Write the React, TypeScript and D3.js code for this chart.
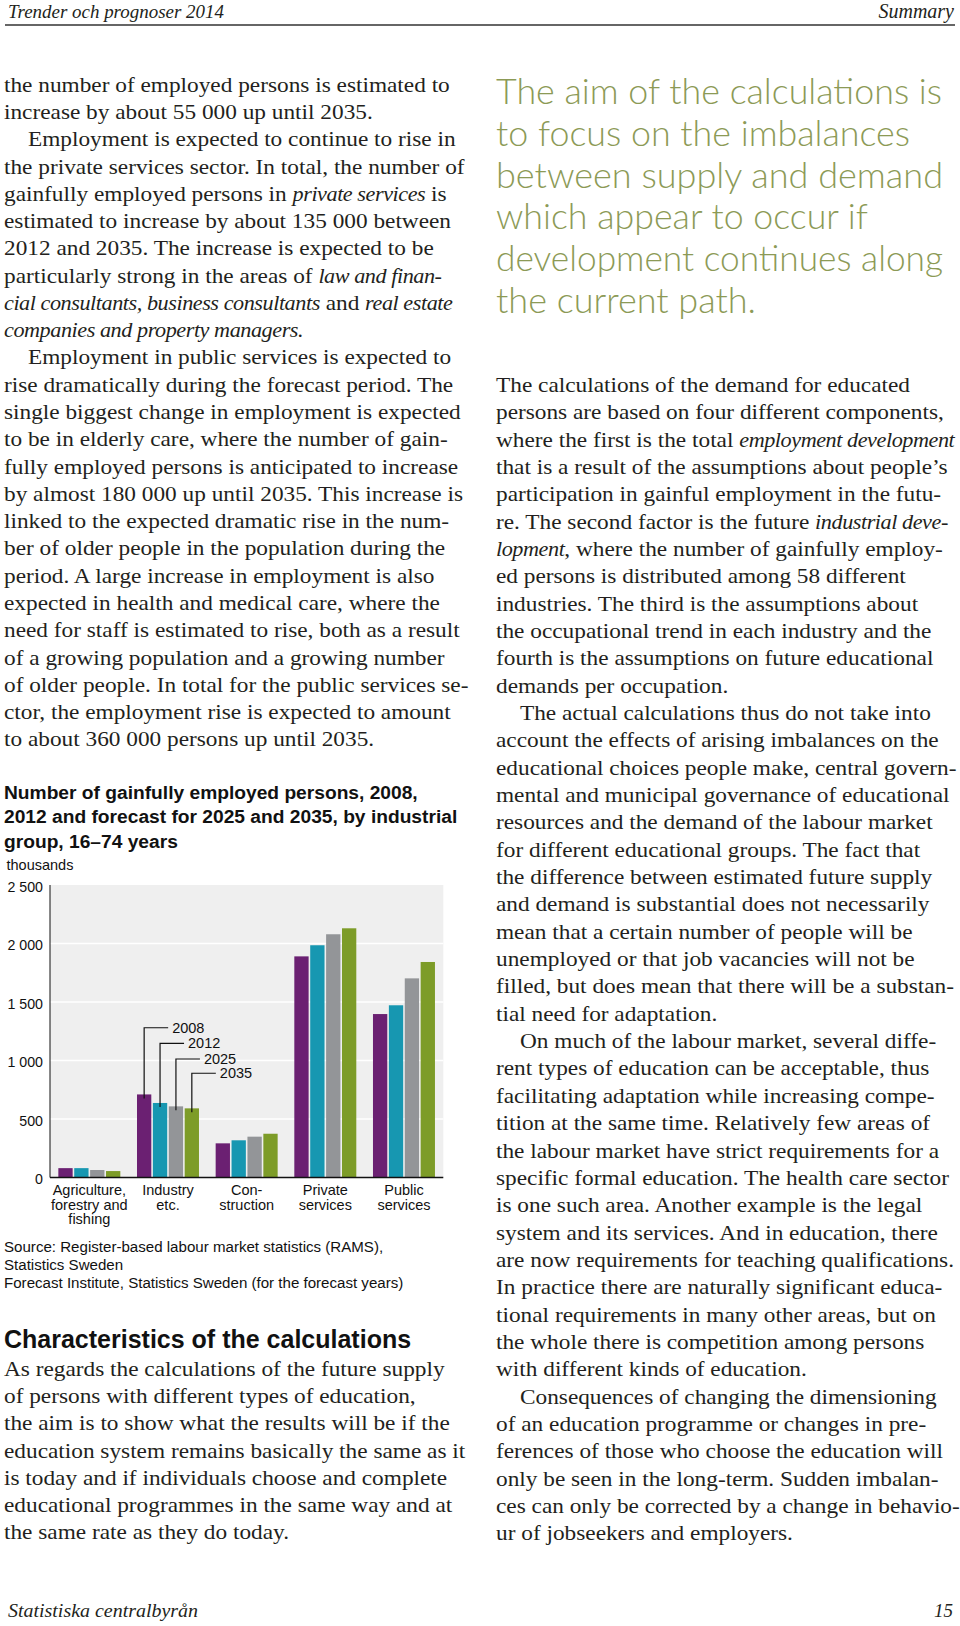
import React from "react";
import * as d3 from "d3";

const categories = ["Agriculture", "Industry", "Construction", "Private", "Public"];
const categoryLabels = [
  ["Agriculture,", "forestry and", "fishing"],
  ["Industry", "etc."],
  ["Con-", "struction"],
  ["Private", "services"],
  ["Public", "services"],
];
const years = ["2008", "2012", "2025", "2035"];
const values2008 = [80, 710, 292, 1890, 1397];
const values2012 = [80, 637, 318, 1985, 1472];
const values2025 = [64, 608, 349, 2079, 1702];
const values2035 = [55, 591, 374, 2130, 1842];
const yTicks = [0, 500, 1000, 1500, 2000, 2500];
const yTickLabels = ["0", "500", "1 000", "1 500", "2 000", "2 500"];
const calloutLevels = [1280, 1147, 1013, 891];
const colors = ["#6b2072", "#1797b1", "#939598", "#7d9c28"];

const chartTitle = [
  "Number of gainfully employed persons, 2008,",
  "2012 and forecast for 2025 and 2035, by industrial",
  "group, 16–74 years",
];
const sourceLines = [
  "Source: Register-based labour market statistics (RAMS),",
  "Statistics Sweden",
  "Forecast Institute, Statistics Sweden (for the forecast years)",
];

const leftLines = [
  "the number of employed persons is estimated to",
  "increase by about 55 000 up until 2035.",
  ">Employment is expected to continue to rise in",
  "the private services sector. In total, the number of",
  "gainfully employed persons in *private services* is",
  "estimated to increase by about 135 000 between",
  "2012 and 2035. The increase is expected to be",
  "particularly strong in the areas of *law and finan-*",
  "*cial consultants, business consultants* and *real estate*",
  "*companies and property managers.*",
  ">Employment in public services is expected to",
  "rise dramatically during the forecast period. The",
  "single biggest change in employment is expected",
  "to be in elderly care, where the number of gain-",
  "fully employed persons is anticipated to increase",
  "by almost 180 000 up until 2035. This increase is",
  "linked to the expected dramatic rise in the num-",
  "ber of older people in the population during the",
  "period. A large increase in employment is also",
  "expected in health and medical care, where the",
  "need for staff is estimated to rise, both as a result",
  "of a growing population and a growing number",
  "of older people. In total for the public services se-",
  "ctor, the employment rise is expected to amount",
  "to about 360 000 persons up until 2035.",
];

const bottomLines = [
  "As regards the calculations of the future supply",
  "of persons with different types of education,",
  "the aim is to show what the results will be if the",
  "education system remains basically the same as it",
  "is today and if individuals choose and complete",
  "educational programmes in the same way and at",
  "the same rate as they do today.",
];

const quoteLines = [
  "The aim of the calculations is",
  "to focus on the imbalances",
  "between supply and demand",
  "which appear to occur if",
  "development continues along",
  "the current path.",
];
const quoteWidths = [446, 414, 447, 372, 447, 260];

const rightLines = [
  "The calculations of the demand for educated",
  "persons are based on four different components,",
  "where the first is the total *employment development*",
  "that is a result of the assumptions about people’s",
  "participation in gainful employment in the futu-",
  "re. The second factor is the future *industrial deve-*",
  "*lopment*, where the number of gainfully employ-",
  "ed persons is distributed among 58 different",
  "industries. The third is the assumptions about",
  "the occupational trend in each industry and the",
  "fourth is the assumptions on future educational",
  "demands per occupation.",
  ">The actual calculations thus do not take into",
  "account the effects of arising imbalances on the",
  "educational choices people make, central govern-",
  "mental and municipal governance of educational",
  "resources and the demand of the labour market",
  "for different educational groups. The fact that",
  "the difference between estimated future supply",
  "and demand is substantial does not necessarily",
  "mean that a certain number of people will be",
  "unemployed or that job vacancies will not be",
  "filled, but does mean that there will be a substan-",
  "tial need for adaptation.",
  ">On much of the labour market, several diffe-",
  "rent types of education can be acceptable, thus",
  "facilitating adaptation while increasing compe-",
  "tition at the same time. Relatively few areas of",
  "the labour market have strict requirements for a",
  "specific formal education. The health care sector",
  "is one such area. Another example is the legal",
  "system and its services. And in education, there",
  "are now requirements for teaching qualifications.",
  "In practice there are naturally significant educa-",
  "tional requirements in many other areas, but on",
  "the whole there is competition among persons",
  "with different kinds of education.",
  ">Consequences of changing the dimensioning",
  "of an education programme or changes in pre-",
  "ferences of those who choose the education will",
  "only be seen in the long-term. Sudden imbalan-",
  "ces can only be corrected by a change in behavio-",
  "ur of jobseekers and employers.",
];

const SERIF = "'Liberation Serif', 'Times New Roman', serif";
const SANS = "'Liberation Sans', Arial, Helvetica, sans-serif";
const TEXT = "#231f20";
const SX = 1.11;

function BodyLine({ line, x, y, indent }: { line: string; x: number; y: number; indent: number }) {
  let s = line;
  let ind = 0;
  if (s.startsWith(">")) {
    s = s.slice(1);
    ind = indent;
  }
  const parts = s.split("*");
  return (
    <text x={(x + ind) / SX} y={y} transform={`scale(${SX},1)`} fontFamily={SERIF} fontSize={21} fill={TEXT} xmlSpace="preserve">
      {parts.map((p, i) =>
        i % 2 === 1 ? (
          <tspan key={i} fontStyle="italic" fontSize={20} letterSpacing={-0.4}>
            {p}
          </tspan>
        ) : (
          <tspan key={i}>{p}</tspan>
        )
      )}
    </text>
  );
}

function Chart() {
  const x0 = d3.scaleBand<string>().domain(categories).range([50, 443.3]).paddingInner(0.212).paddingOuter(0.106);
  const x1 = d3.scaleBand<string>().domain(years).range([0, x0.bandwidth()]).paddingInner(0.1);
  const y = d3.scaleLinear().domain([0, 2500]).range([1177.5, 885]);
  const series = [values2008, values2012, values2025, values2035];
  const bw = x1.bandwidth();
  const [plotL, plotR] = x0.range();
  return (
    <g>
      {chartTitle.map((t, i) => (
        <text key={i} x={4} y={798.5 + i * 24.5} fontFamily={SANS} fontWeight="bold" fontSize={19.2} fill="#111">
          {t}
        </text>
      ))}
      <text x={6.5} y={870} fontFamily={SANS} fontSize={14.5} fill="#111">thousands</text>
      <rect x={plotL} y={y(2500)} width={plotR - plotL} height={y(0) - y(2500)} fill="#efefef" />
      {yTicks.slice(1, -1).map((t) => (
        <line key={t} x1={plotL} x2={plotR} y1={y(t)} y2={y(t)} stroke="#fff" strokeWidth={1.5} />
      ))}
      {yTicks.map((t, i) => (
        <text key={t} x={43} y={y(t) + 6.5} textAnchor="end" fontFamily={SANS} fontSize={14.2} fill="#111">
          {yTickLabels[i]}
        </text>
      ))}
      {categories.map((c, ci) => (
        <g key={c}>
          {series.map((s, si) => (
            <rect key={si} x={(x0(c) as number) + (x1(years[si]) as number)} y={y(s[ci])} width={bw} height={y(0) - y(s[ci])} fill={colors[si]} />
          ))}
          {categoryLabels[ci].map((l, li) => (
            <text key={li} x={(x0(c) as number) + x0.bandwidth() / 2} y={1195 + li * 14.6} textAnchor="middle" fontFamily={SANS} fontSize={14.5} fill="#111">
              {l}
            </text>
          ))}
        </g>
      ))}
      {years.map((yr, si) => {
        const c = categories[1];
        const cx = (x0(c) as number) + (x1(yr) as number) + bw / 2;
        const ly = y(calloutLevels[si]);
        const by = y(series[si][1]) + 4;
        return (
          <g key={yr}>
            <path d={`M${cx},${by}V${ly}H${cx + 24}`} fill="none" stroke="#111" strokeWidth={1.2} />
            <text x={cx + 28} y={ly + 5} fontFamily={SANS} fontSize={14.5} fill="#111">{yr}</text>
          </g>
        );
      })}
      <line x1={plotL} x2={plotL} y1={y(2500)} y2={y(0)} stroke="#111" strokeWidth={1} />
      <line x1={plotL} x2={plotR} y1={y(0)} y2={y(0)} stroke="#111" strokeWidth={1.5} />
      {sourceLines.map((t, i) => (
        <text key={i} x={4} y={1251.7 + i * 18.3} fontFamily={SANS} fontSize={15.1} fill="#111">{t}</text>
      ))}
    </g>
  );
}

export default function App() {
  return (
    <svg width={960} height={1626} viewBox="0 0 960 1626" style={{ position: "absolute", left: 0, top: 0, background: "#fff" }}>
      <rect x={0} y={0} width={960} height={1626} fill="#fff" />
      <text x={8} y={18} fontFamily={SERIF} fontStyle="italic" fontSize={19.5} fill={TEXT} textLength={216} lengthAdjust="spacingAndGlyphs">Trender och prognoser 2014</text>
      <text x={954} y={18} textAnchor="end" fontFamily={SERIF} fontStyle="italic" fontSize={20} fill={TEXT}>Summary</text>
      <line x1={5} x2={955} y1={25} y2={25} stroke="#333" strokeWidth={1.5} />

      {leftLines.map((l, i) => (
        <BodyLine key={i} line={l} x={4} y={91.7 + i * 27.28} indent={24} />
      ))}

      <Chart />

      <text x={4} y={1348} fontFamily={SANS} fontWeight="bold" fontSize={25} fill="#111">Characteristics of the calculations</text>
      {bottomLines.map((l, i) => (
        <BodyLine key={i} line={l} x={4} y={1376} indent={24} />
      )).map((el, i) => React.cloneElement(el, { y: 1376 + i * 27.2 }))}

      {quoteLines.map((l, i) => (
        <text key={i} x={496} y={104 + i * 41.8} fontFamily="Lato, 'Open Sans', sans-serif" fontWeight={300} fontSize={35} fill="#8c9a56" textLength={quoteWidths[i]} lengthAdjust="spacingAndGlyphs">
          {l}
        </text>
      ))}

      {rightLines.map((l, i) => (
        <BodyLine key={i} line={l} x={496} y={392 + i * 27.34} indent={24} />
      ))}

      <text x={8} y={1617} fontFamily={SERIF} fontStyle="italic" fontSize={19} fill={TEXT} textLength={190} lengthAdjust="spacingAndGlyphs">Statistiska centralbyrån</text>
      <text x={953} y={1617} textAnchor="end" fontFamily={SERIF} fontStyle="italic" fontSize={19} fill={TEXT}>15</text>
    </svg>
  );
}
